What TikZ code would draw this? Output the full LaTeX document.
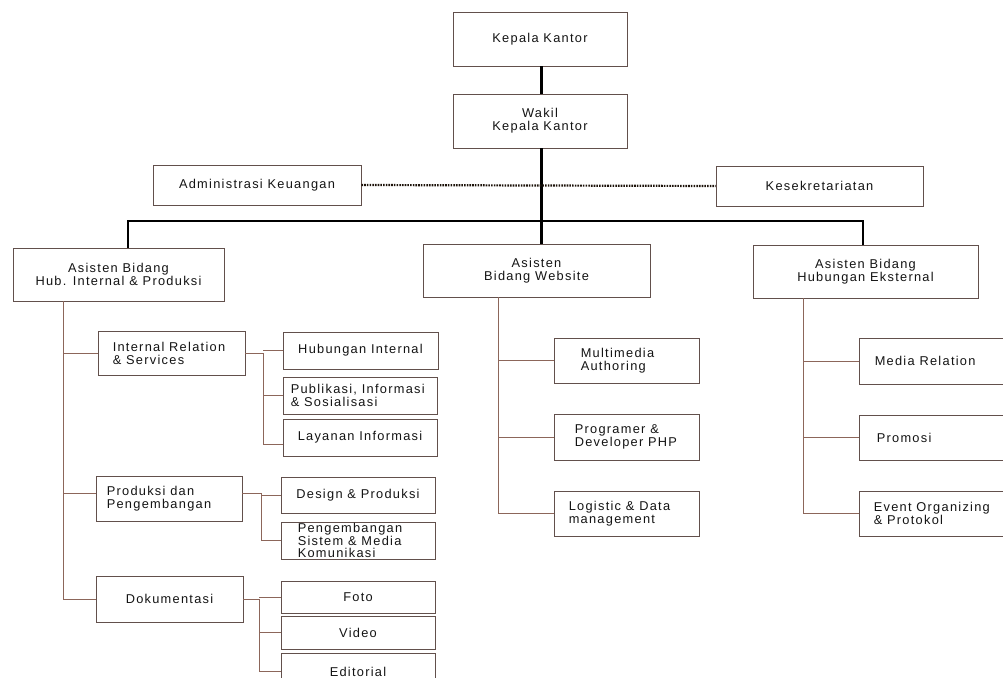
\documentclass[tikz,border=0pt]{standalone}
\usepackage{fontspec}
\setmainfont{Liberation Sans}[LetterSpace=10]
\usetikzlibrary{positioning}
\definecolor{boxcol}{RGB}{98,80,76}
\definecolor{treecol}{RGB}{140,102,90}
\definecolor{txtcol}{RGB}{20,20,20}
\tikzset{
  box/.style={draw=boxcol, line width=0.9pt, fill=white, inner sep=0pt,
    align=center, text=txtcol, font=\fontsize{12.8}{13}\selectfont},
  lefttext/.style={anchor=west, inner sep=0pt, align=left, text=txtcol,
    font=\fontsize{12.8}{13}\selectfont},
  heavy/.style={line width=3pt, black},
  barline/.style={line width=2pt, black},
  tree/.style={line width=1pt, treecol},
  dotline/.style={line width=2.2pt, black!85!brown, dash pattern=on 1.6pt off 1.1pt}
}
\begin{document}
\begin{tikzpicture}[x=1pt,y=-1pt]
\useasboundingbox (0,0) rectangle (1003,677);
\clip (0,0) rectangle (1003,677);

% top of the hierarchy
\node[box, minimum width=174, minimum height=54] (kk) at (540,39) {Kepala Kantor};
\node[box, minimum width=174, minimum height=54] (wk) at (540,121) {Wakil\\Kepala Kantor};

% staff units
\node[box, minimum width=208, minimum height=40] (adm) at (257,185) {Administrasi Keuangan};
\node[box, minimum width=207, minimum height=40] (ses) at (819.5,186) {Kesekretariatan};

% assistants
\node[box, minimum width=211, minimum height=53] (ahi) at (118.5,274.5) {Asisten Bidang\\Hub. Internal \& Produksi};
\node[box, minimum width=227, minimum height=53] (aweb) at (536.5,270.5) {Asisten\\Bidang Website};
\node[box, minimum width=225, minimum height=53] (aeks) at (865.5,271.5) {Asisten Bidang\\Hubungan Eksternal};

% internal relations and production
\node[box, minimum width=147, minimum height=44,
  label={[lefttext, xshift=15pt]west:Internal Relation\\\& Services}] (irs) at (171.5,353) {};
\node[box, minimum width=155, minimum height=37] (hub) at (360.5,350.5) {Hubungan Internal};
\node[box, minimum width=154, minimum height=37,
  label={[lefttext, xshift=8pt]west:Publikasi, Informasi\\\& Sosialisasi}] (pub) at (360,395.5) {};
\node[box, minimum width=154, minimum height=37] (lay) at (360,437.5) {Layanan Informasi};

\node[box, minimum width=146, minimum height=45,
  label={[lefttext, xshift=11pt]west:Produksi dan\\Pengembangan}] (prod) at (169,498.5) {};
\node[box, minimum width=154, minimum height=36] (des) at (358,495) {Design \& Produksi};
\node[box, minimum width=154, minimum height=37,
  label={[lefttext, xshift=17pt, font=\fontsize{12.8}{12.3}\selectfont]west:Pengembangan\\Sistem \& Media\\Komunikasi}] (pen) at (358,540.5) {};

\node[box, minimum width=147, minimum height=46] (dok) at (169.5,599) {Dokumentasi};
\node[box, minimum width=154, minimum height=32] (foto) at (358,597) {Foto};
\node[box, minimum width=154, minimum height=33] (vid) at (358,632.5) {Video};
\node[box, minimum width=154, minimum height=37] (edi) at (358,671.5) {Editorial};

% website
\node[box, minimum width=145, minimum height=45,
  label={[lefttext, xshift=27pt]west:Multimedia\\Authoring}] (ma) at (626.5,360.5) {};
\node[box, minimum width=145, minimum height=46,
  label={[lefttext, xshift=21pt]west:Programer \&\\Developer PHP}] (pd) at (626.5,437) {};
\node[box, minimum width=145, minimum height=45,
  label={[lefttext, xshift=15pt]west:Logistic \& Data\\management}] (ld) at (626.5,513.5) {};

% external relations
\node[box, minimum width=171, minimum height=46,
  label={[lefttext, xshift=16pt]west:Media Relation}] (mr) at (944.5,361) {};
\node[box, minimum width=171, minimum height=45,
  label={[lefttext, xshift=18pt]west:Promosi}] (pr) at (944.5,437.5) {};
\node[box, minimum width=171, minimum height=45,
  label={[lefttext, xshift=15pt]west:Event Organizing\\\& Protokol}] (eo) at (944.5,513.5) {};

% branch positions
\coordinate (barL) at (128,221);
\coordinate (barR) at (863,221);
\coordinate (lt) at (63,0);
\coordinate (b1) at (263,0);
\coordinate (b2) at (261,0);
\coordinate (b3) at (259,0);
\coordinate (wt) at (498,0);
\coordinate (et) at (803,0);

% main line
\draw[heavy] (kk.south -| 541,0) -- (wk.north -| 541,0);
\draw[heavy] (wk.south -| 541,0) -- (aweb.north -| 541,0);
\draw[barline] (ahi.north -| barL) -- (barL) -- (barR) -- (aeks.north -| barR);
\draw[dotline] (adm.east) -- (ses.west);

% internal relations and production tree
\draw[tree] (ahi.south -| lt) |- (dok.west);
\draw[tree] (irs.west -| lt) -- (irs.west);
\draw[tree] ([yshift=5pt]prod.west -| lt) -- ([yshift=5pt]prod.west);

\draw[tree] (irs.east) -| (b1 |- lay.west);
\draw[tree] (b1 |- hub.west) -- (hub.west);
\draw[tree] (b1 |- pub.west) -- (pub.west);
\draw[tree] (b1 |- lay.west) |- ([yshift=-7pt]lay.west);

\draw[tree] ([yshift=5pt]prod.east) -| (b2 |- pen.west) -- (pen.west);
\draw[tree] (b2 |- des.west) -- (des.west);

\draw[tree] (dok.east) -| (b3 |- edi.west) -- (edi.west);
\draw[tree] (b3 |- foto.west) -- (foto.west);
\draw[tree] (b3 |- vid.west) -- (vid.west);

% website tree
\draw[tree] (aweb.south -| wt) |- (ld.west);
\draw[tree] (ma.west -| wt) -- (ma.west);
\draw[tree] (pd.west -| wt) -- (pd.west);

% external relations tree
\draw[tree] (aeks.south -| et) |- (eo.west);
\draw[tree] (mr.west -| et) -- (mr.west);
\draw[tree] (pr.west -| et) -- (pr.west);
\end{tikzpicture}
\end{document}
